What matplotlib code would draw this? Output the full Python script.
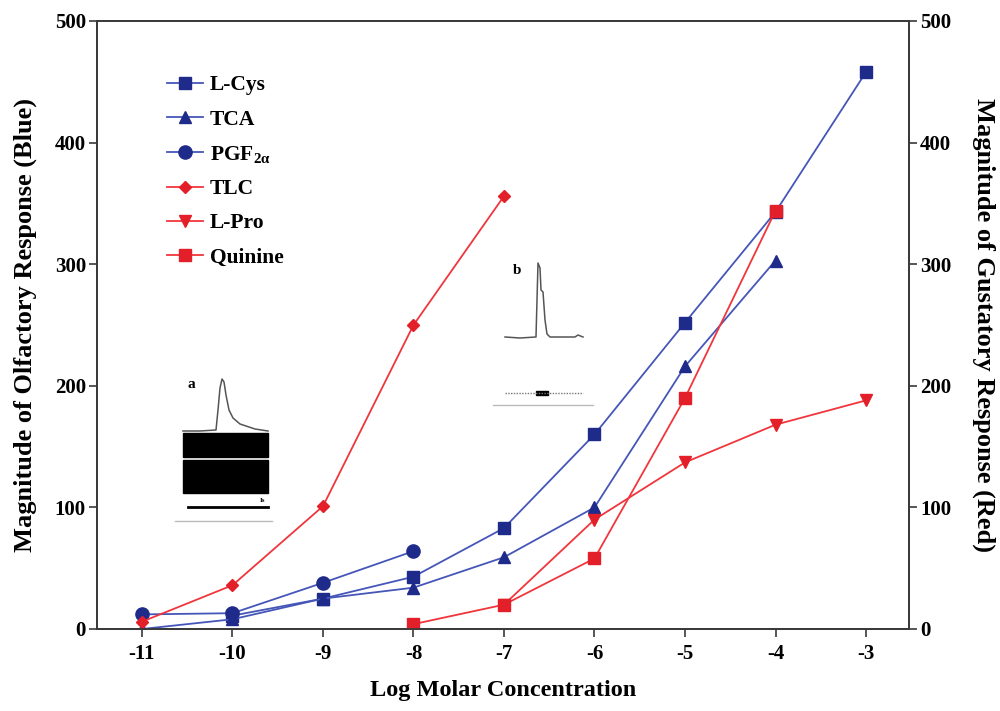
import numpy as np
import matplotlib
matplotlib.use("Agg")
from matplotlib import pyplot as plt
from matplotlib.patches import Rectangle

plt.rcParams['font.family'] = ['Liberation Serif', 'DejaVu Serif']
plt.rcParams['font.weight'] = 'bold'
plt.rcParams['mathtext.fontset'] = 'custom'
plt.rcParams['mathtext.rm'] = 'Liberation Serif:bold'
plt.rcParams['mathtext.it'] = 'Liberation Serif:bold'
plt.rcParams['mathtext.bf'] = 'Liberation Serif:bold'

# log molar concentration for each series
x_lcys = [-10, -9, -8, -7, -6, -5, -4, -3]
lcys = [11, 25, 43, 83, 160, 252, 343, 458]
x_tca = [-11, -10, -9, -8, -7, -6, -5, -4]
tca = [0, 8, 25, 34, 59, 100, 216, 303]
x_pgf = [-11, -10, -9, -8]
pgf = [12, 13, 38, 64]

# gustatory (right axis)
x_tlc = [-11, -10, -9, -8, -7]
tlc = [6, 36, 101, 250, 356]
x_lpro = [-7, -6, -5, -4, -3]
lpro = [20, 90, 137, 168, 188]
x_quin = [-8, -7, -6, -5, -4]
quin = [4, 20, 58, 190, 344]

xticks = [-11, -10, -9, -8, -7, -6, -5, -4, -3]
yticks = [0, 100, 200, 300, 400, 500]

# insets (recording traces, figure pixel coords)
trace_a_x = [183, 200, 216, 218, 220, 222, 224, 226, 229, 233, 240, 255, 268]
trace_a_y = [431, 431, 430, 410, 388, 379, 382, 395, 410, 418, 424, 429, 431]
trace_b_x = [505, 520, 536, 537, 538, 540, 541, 543, 545, 547, 550, 565, 575, 578, 583]
trace_b_y = [337, 338, 337, 300, 263, 268, 290, 292, 320, 334, 337, 337, 337, 335, 337]

navy = '#1f2b8a'
blue_line = '#4556b8'
red = '#e3202a'
red_line = '#f0363c'
spine_c = '#3a3a3a'

fig = plt.figure(figsize=(10, 7.11), dpi=100)
ax = fig.add_axes([0.097, 1 - 629 / 711, 0.812, 608 / 711])
ax2 = ax.twinx()

lw = 1.3
h1, = ax.plot(x_lcys, lcys, color=blue_line, lw=lw, marker='s', ms=9, mfc=navy, mec=navy, label='L-Cys')
h2, = ax.plot(x_tca, tca, color=blue_line, lw=lw, marker='^', ms=9, mfc=navy, mec=navy, label='TCA')
h3, = ax.plot(x_pgf, pgf, color=blue_line, lw=lw, marker='o', ms=9.5, mfc=navy, mec=navy, label='PGF$_{2\\alpha}$')
h4, = ax2.plot(x_tlc, tlc, color=red_line, lw=lw, marker='D', ms=6.5, mfc=red, mec=red, label='TLC')
h5, = ax2.plot(x_lpro, lpro, color=red_line, lw=lw, marker='v', ms=9, mfc=red, mec=red, label='L-Pro')
h6, = ax2.plot(x_quin, quin, color=red_line, lw=lw, marker='s', ms=9, mfc=red, mec=red, label='Quinine')

for a in (ax, ax2):
    a.set_xlim(-11.497, -2.525)
    a.set_ylim(0, 500)
    a.set_yticks(yticks)
    for s in a.spines.values():
        s.set_color(spine_c)
        s.set_linewidth(1.3)
    a.tick_params(direction='out', length=6, width=1.2, color=spine_c, labelsize=15, pad=2)
ax.set_xticks(xticks)
ax.set_xticklabels([str(t) for t in xticks])
ax.tick_params(axis='x', pad=5)
ax.set_ylabel('Magnitude of Olfactory Response (Blue)', fontsize=19, fontweight='bold', labelpad=13)
ax2.set_ylabel('Magnitude of Gustatory Response (Red)', fontsize=19, fontweight='bold', rotation=270, labelpad=32)
ax.set_xlabel('Log Molar Concentration', fontsize=17.5, fontweight='bold', labelpad=11)

leg = ax.legend(handles=[h1, h2, h3, h4, h5, h6], loc='upper left', bbox_to_anchor=(0.076, 0.925),
                frameon=False, fontsize=15.5, handlelength=1.65, handletextpad=0.33, labelspacing=0.66,
                borderaxespad=0)
for t in leg.get_texts():
    t.set_fontweight('bold')

# overlay for inset recordings
ov = fig.add_axes([0, 0, 1, 1], zorder=-1)
ov.set_xlim(0, 1000)
ov.set_ylim(711, 0)
ov.axis('off')
ax.set_zorder(1)
ax2.set_zorder(2)
ax.patch.set_visible(False)
ax2.patch.set_visible(False)

ov.text(191, 384, 'a', fontsize=11, fontweight='bold', ha='center', va='center')
ov.plot(trace_a_x, trace_a_y, color='#555555', lw=1.1)
ov.add_patch(Rectangle((183, 433), 85, 24, color='black'))
ov.add_patch(Rectangle((183, 460), 85, 33, color='black'))
ov.plot([188, 268], [507, 507], color='black', lw=2)
ov.text(262, 500, 'Is', fontsize=5, ha='center', va='center')
ov.plot([175, 272], [521, 521], color='#bbbbbb', lw=1)

ov.text(517, 271, 'b', fontsize=11, fontweight='bold', ha='center', va='center')
ov.plot(trace_b_x, trace_b_y, color='#555555', lw=1.1)
ov.plot([505, 583], [393, 393], color='#777777', lw=1, ls=(0, (1, 1)))
ov.add_patch(Rectangle((536, 391), 12, 4, color='black'))
ov.plot([493, 593], [405, 405], color='#bbbbbb', lw=1)

fig.savefig('out.png', dpi=100)
